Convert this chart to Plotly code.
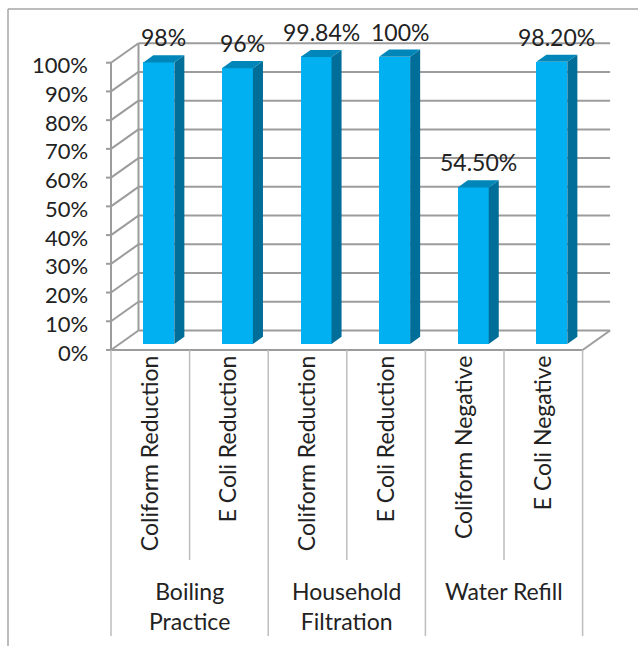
import plotly.graph_objects as go

# ---------------- data ----------------
groups = ["Boiling<br>Practice", "Household<br>Filtration", "Water Refill"]
categories = ["Coliform Reduction", "E Coli Reduction", "Coliform Reduction",
              "E Coli Reduction", "Coliform Negative", "E Coli Negative"]
values = [98, 96, 99.84, 100, 54.5, 98.2]
value_labels = ["98%", "96%", "99.84%", "100%", "54.50%", "98.20%"]
tick_vals = [0, 10, 20, 30, 40, 50, 60, 70, 80, 90, 100]
tick_labels = ["0%", "10%", "20%", "30%", "40%", "50%", "60%", "70%", "80%", "90%", "100%"]

# ---------------- layout constants ----------------
W, H = 638, 646
AX_X = 111.0          # pixel x of front value axis
AX_Y = 350.0          # pixel y of front 0%
PX_CAT = 78.6         # pixels per category
PX_PCT = 2.873        # pixels per percent
DX = 27.5 / PX_CAT    # depth offset (category units)
DY = 19.5 / PX_PCT    # depth offset (percent units)
F1, F2 = 0.31, 0.675  # bar front / back depth fractions
HW = 15.5 / PX_CAT    # bar half width
TICK = 5 / PX_CAT     # tick mark length (category units)
LABEL_GAP = 21 / PX_CAT  # gap from axis to right edge of value-axis labels

x0 = -0.5 - AX_X / PX_CAT
x1 = x0 + W / PX_CAT
y1 = AX_Y / PX_PCT
y0 = (AX_Y - H) / PX_PCT
def py(p):  # pixel y -> data y
    return (AX_Y - p) / PX_PCT

FRONT = "#00B0F0"
SIDE = "#006E98"
TOP = "#0086B8"
GRID = "#9C9C9C"
SEP = "#BDBDBD"
TXT = "#222222"
FONT = "Lato"
FS = 23

n = len(categories)
xs = list(range(n))

fig = go.Figure()

# front faces
fig.add_trace(go.Bar(
    x=[x + F1 * DX for x in xs], y=values, base=F1 * DY, width=2 * HW,
    marker=dict(color=FRONT, line=dict(width=0)), hoverinfo="skip", showlegend=False))

# side and top faces
sx, sy, tx, ty = [], [], [], []
ddx, ddy = (F2 - F1) * DX, (F2 - F1) * DY
for x, v in zip(xs, values):
    xl = x + F1 * DX - HW
    xr = x + F1 * DX + HW
    b = F1 * DY
    t = b + v
    sx += [xr, xr + ddx, xr + ddx, xr, xr, None]
    sy += [b, b + ddy, t + ddy, t, b, None]
    tx += [xl, xr, xr + ddx, xl + ddx, xl, None]
    ty += [t, t, t + ddy, t + ddy, t, None]
fig.add_trace(go.Scatter(x=sx, y=sy, fill="toself", fillcolor=SIDE, mode="lines",
                         line=dict(width=0, color=SIDE), hoverinfo="skip", showlegend=False))
fig.add_trace(go.Scatter(x=tx, y=ty, fill="toself", fillcolor=TOP, mode="lines",
                         line=dict(width=0, color=TOP), hoverinfo="skip", showlegend=False))

shapes = []
annotations = []
xl_front, xr_front = -0.5, n - 0.5
for v, lab in zip(tick_vals, tick_labels):
    # back wall gridline
    shapes.append(dict(type="line", x0=xl_front + DX, x1=xr_front + DX, y0=v + DY, y1=v + DY,
                       line=dict(color=GRID, width=2), layer="below"))
    # left wall diagonal
    shapes.append(dict(type="line", x0=xl_front, x1=xl_front + DX, y0=v, y1=v + DY,
                       line=dict(color=GRID, width=2), layer="below"))
    # front axis tick mark
    shapes.append(dict(type="line", x0=xl_front - TICK, x1=xl_front, y0=v, y1=v,
                       line=dict(color=GRID, width=2), layer="below"))
    # value-axis label
    annotations.append(dict(x=xl_front - LABEL_GAP, y=v, text=lab, showarrow=False,
                            xanchor="right", yanchor="middle", yshift=-2,
                            font=dict(family=FONT, size=22, color=TXT)))
# back wall left edge
shapes.append(dict(type="line", x0=xl_front + DX, x1=xl_front + DX, y0=DY, y1=tick_vals[-1] + DY,
                   line=dict(color=GRID, width=2), layer="below"))
# front value axis
shapes.append(dict(type="line", x0=xl_front, x1=xl_front, y0=0, y1=tick_vals[-1],
                   line=dict(color=GRID, width=2), layer="below"))
# floor front edge and right diagonal
shapes.append(dict(type="line", x0=xl_front, x1=xr_front, y0=0, y1=0,
                   line=dict(color=GRID, width=2), layer="below"))
shapes.append(dict(type="line", x0=xr_front, x1=xr_front + DX, y0=0, y1=DY,
                   line=dict(color=GRID, width=2), layer="below"))
# category separators
for k in range(n + 1):
    bottom = py(636) if k % 2 == 0 else py(560)
    shapes.append(dict(type="line", x0=k - 0.5, x1=k - 0.5, y0=0, y1=bottom,
                       line=dict(color=SEP, width=1.5), layer="below"))
# outer border
bx, byy = 8 / W, 1 - 9 / H
shapes.append(dict(type="line", xref="paper", yref="paper", x0=bx, x1=bx, y0=byy, y1=0,
                   line=dict(color="#A6A6A6", width=1.5)))
shapes.append(dict(type="line", xref="paper", yref="paper", x0=bx, x1=1, y0=byy, y1=byy,
                   line=dict(color="#A6A6A6", width=1.5)))

for x, v, lab in zip(xs, values, value_labels):
    annotations.append(dict(x=x + F1 * DX + ddx / 2, y=F1 * DY + v + ddy, text=lab,
                            showarrow=False, yanchor="bottom", yshift=2,
                            font=dict(family=FONT, size=FS, color=TXT)))
for g, name in enumerate(groups):
    annotations.append(dict(x=2 * g + 0.5, y=py(575), text=name, showarrow=False,
                            yanchor="top", xanchor="center",
                            font=dict(family=FONT, size=FS, color=TXT)))

fig.update_layout(
    width=W, height=H, margin=dict(l=0, r=0, t=0, b=0, pad=0),
    paper_bgcolor="white", plot_bgcolor="white",
    bargap=0, shapes=shapes, annotations=annotations,
    xaxis=dict(range=[x0, x1], anchor="free", position=1 - AX_Y / H,
               tickmode="array", tickvals=xs, ticktext=categories, tickangle=-90,
               showgrid=False, zeroline=False, showline=False, ticks="",
               tickfont=dict(family=FONT, size=FS, color=TXT), fixedrange=True),
    yaxis=dict(range=[y0, y1], showticklabels=False, ticks="",
               showgrid=False, zeroline=False, showline=False, fixedrange=True),
)

fig.write_html("out.html")
